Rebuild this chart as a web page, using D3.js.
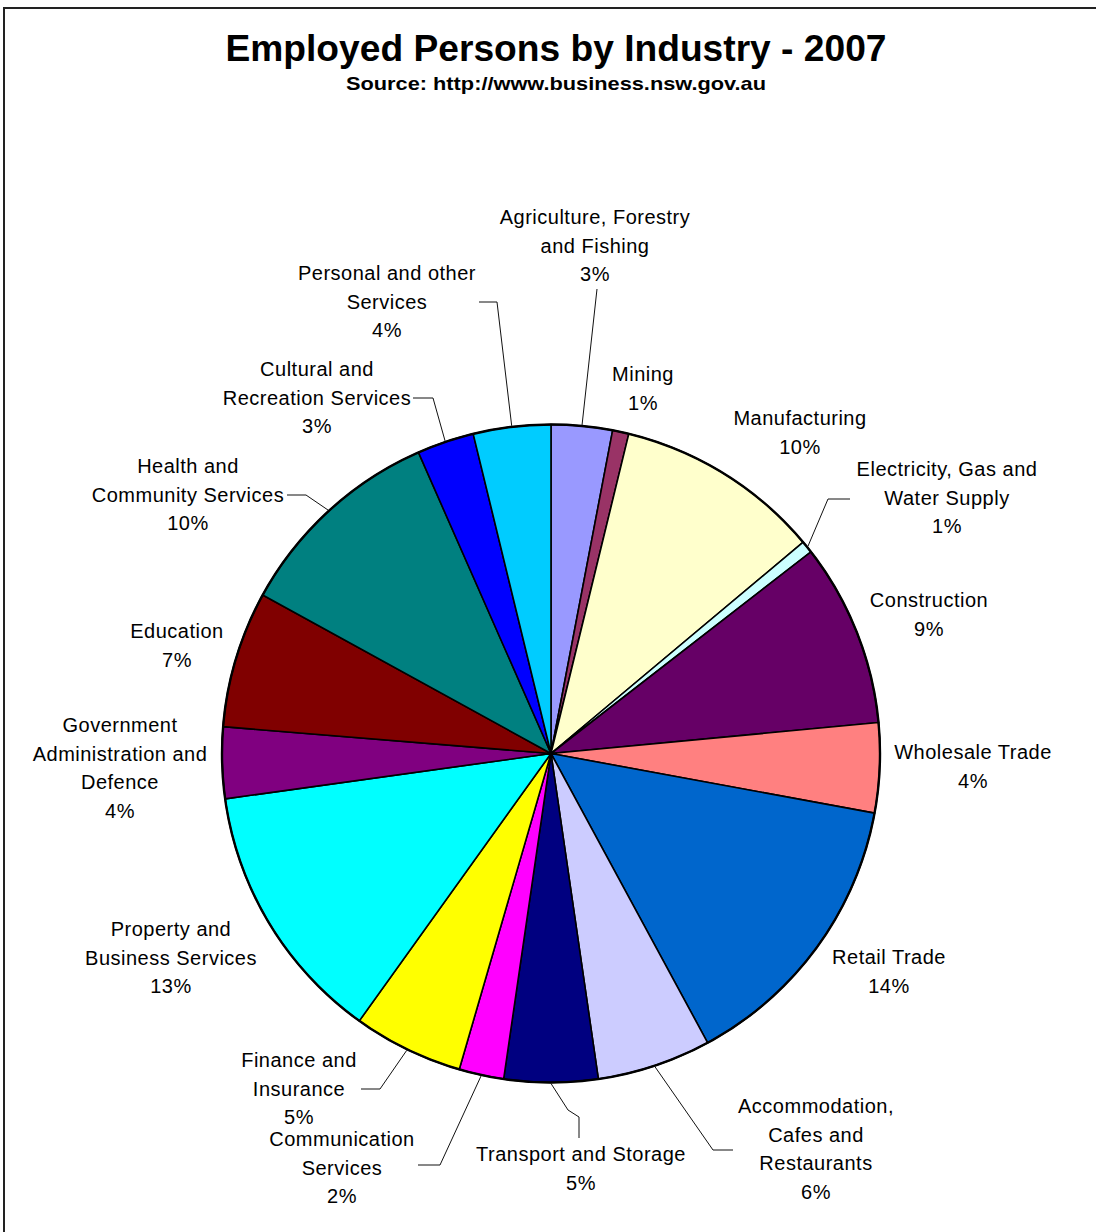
<!DOCTYPE html>
<html>
<head>
<meta charset="utf-8">
<script src="https://cdn.jsdelivr.net/npm/d3@7"></script>
<style>
  html, body { margin: 0; padding: 0; background: #fff; }
  svg { display: block; }
  text { font-family: "Liberation Sans", Arial, sans-serif; fill: #000; }
</style>
</head>
<body>
<svg id="chart" width="1096" height="1232"></svg>
<script>
// Industry names, drawn clockwise from 12 o'clock
const categories = [
  "Agriculture, Forestry and Fishing",
  "Mining",
  "Manufacturing",
  "Electricity, Gas and Water Supply",
  "Construction",
  "Wholesale Trade",
  "Retail Trade",
  "Accommodation, Cafes and Restaurants",
  "Transport and Storage",
  "Communication Services",
  "Finance and Insurance",
  "Property and Business Services",
  "Government Administration and Defence",
  "Education",
  "Health and Community Services",
  "Cultural and Recreation Services",
  "Personal and other Services"
];

// Share of employed persons (%)
const shares = [3.0, 0.8, 10.1, 0.6, 9.0, 4.4, 14.2, 5.6, 4.6, 2.2, 5.4, 12.9, 3.5, 6.7, 10.4, 2.8, 3.8];

// Wrapped label text for each industry
const labelLines = [
  ["Agriculture, Forestry", "and Fishing"],
  ["Mining"],
  ["Manufacturing"],
  ["Electricity, Gas and", "Water Supply"],
  ["Construction"],
  ["Wholesale Trade"],
  ["Retail Trade"],
  ["Accommodation,", "Cafes and", "Restaurants"],
  ["Transport and Storage"],
  ["Communication", "Services"],
  ["Finance and", "Insurance"],
  ["Property and", "Business Services"],
  ["Government", "Administration and", "Defence"],
  ["Education"],
  ["Health and", "Community Services"],
  ["Cultural and", "Recreation Services"],
  ["Personal and other", "Services"]
];

const sliceColors = [
  "#9999FF", "#993366", "#FFFFCC", "#CCFFFF", "#660066", "#FF8080",
  "#0066CC", "#CCCCFF", "#000080", "#FF00FF", "#FFFF00", "#00FFFF",
  "#800080", "#800000", "#008080", "#0000FF", "#00CCFF"
];

const titleText = "Employed Persons by Industry - 2007";
const subtitleText = "Source: http://www.business.nsw.gov.au";

// ---- layout ----
const W = 1096, H = 1232;
const cx = 551, cy = 753.5, R = 329;
const lineGap = 28.5;

// label anchor: centre x, first-line middle y
const labelAnchor = [
  [595, 217], [643, 374], [800, 418], [947, 469], [929, 600], [973, 752],
  [889, 957], [816, 1106], [581, 1154], [342, 1139], [299, 1060], [171, 929],
  [120, 725], [177, 631], [188, 466], [317, 369], [387, 273]
];

// leader-line bend points (line starts on the rim at the slice's mid angle)
const leaderPoints = {
  0: [[597, 289]],
  3: [[828, 499], [850, 499]],
  7: [[713, 1150], [733, 1150]],
  8: [[568, 1110], [579, 1117], [579, 1138]],
  9: [[440, 1165], [418, 1165]],
  10: [[380, 1089], [361, 1089]],
  14: [[306, 495], [287, 495]],
  15: [[433, 398], [413, 398]],
  16: [[497, 302], [479, 302]]
};

const svg = d3.select("#chart");

// frame
svg.append("path")
  .attr("d", `M4,${H} L4,8 L${W},8`)
  .attr("fill", "none")
  .attr("stroke", "#222")
  .attr("stroke-width", 2);

// titles
svg.append("text")
  .attr("x", 556).attr("y", 61)
  .attr("text-anchor", "middle")
  .attr("font-size", 36).attr("font-weight", "bold")
  .attr("textLength", 661).attr("lengthAdjust", "spacingAndGlyphs")
  .text(titleText);

svg.append("text")
  .attr("x", 556).attr("y", 90)
  .attr("text-anchor", "middle")
  .attr("font-size", 19).attr("font-weight", "bold")
  .attr("textLength", 420).attr("lengthAdjust", "spacingAndGlyphs")
  .text(subtitleText);

// pie
const total = d3.sum(shares);
const pie = d3.pie().sort(null).value(d => d).startAngle(0).endAngle(2 * Math.PI);
const arcs = pie(shares);
const arc = d3.arc().innerRadius(0).outerRadius(R);

const g = svg.append("g").attr("transform", `translate(${cx},${cy})`);

g.selectAll("path.slice")
  .data(arcs)
  .join("path")
  .attr("class", "slice")
  .attr("d", arc)
  .attr("fill", (d, i) => sliceColors[i])
  .attr("stroke", "#000")
  .attr("stroke-width", 1.6)
  .attr("stroke-linejoin", "round");

g.append("circle")
  .attr("r", R)
  .attr("fill", "none")
  .attr("stroke", "#000")
  .attr("stroke-width", 2.4);

// leader lines
const rim = d3.arc().innerRadius(R + 1).outerRadius(R + 1);
Object.entries(leaderPoints).forEach(([k, pts]) => {
  const a = arcs[+k];
  const [sx, sy] = rim.centroid(a);
  const path = d3.path();
  path.moveTo(cx + sx, cy + sy);
  pts.forEach(p => path.lineTo(p[0], p[1]));
  svg.append("path")
    .attr("d", path.toString())
    .attr("fill", "none")
    .attr("stroke", "#111")
    .attr("stroke-width", 1);
});

// labels
const fmt = v => Math.round(v / total * 100) + "%";
arcs.forEach((a, i) => {
  const [x, y0] = labelAnchor[i];
  const lines = labelLines[i].concat([fmt(a.data)]);
  const t = svg.append("text")
    .attr("text-anchor", "middle")
    .attr("font-size", 20)
    .attr("letter-spacing", "0.5px");
  lines.forEach((ln, j) => {
    t.append("tspan")
      .attr("x", x)
      .attr("y", y0 + 7 + j * lineGap)
      .text(ln);
  });
});
</script>
</body>
</html>
